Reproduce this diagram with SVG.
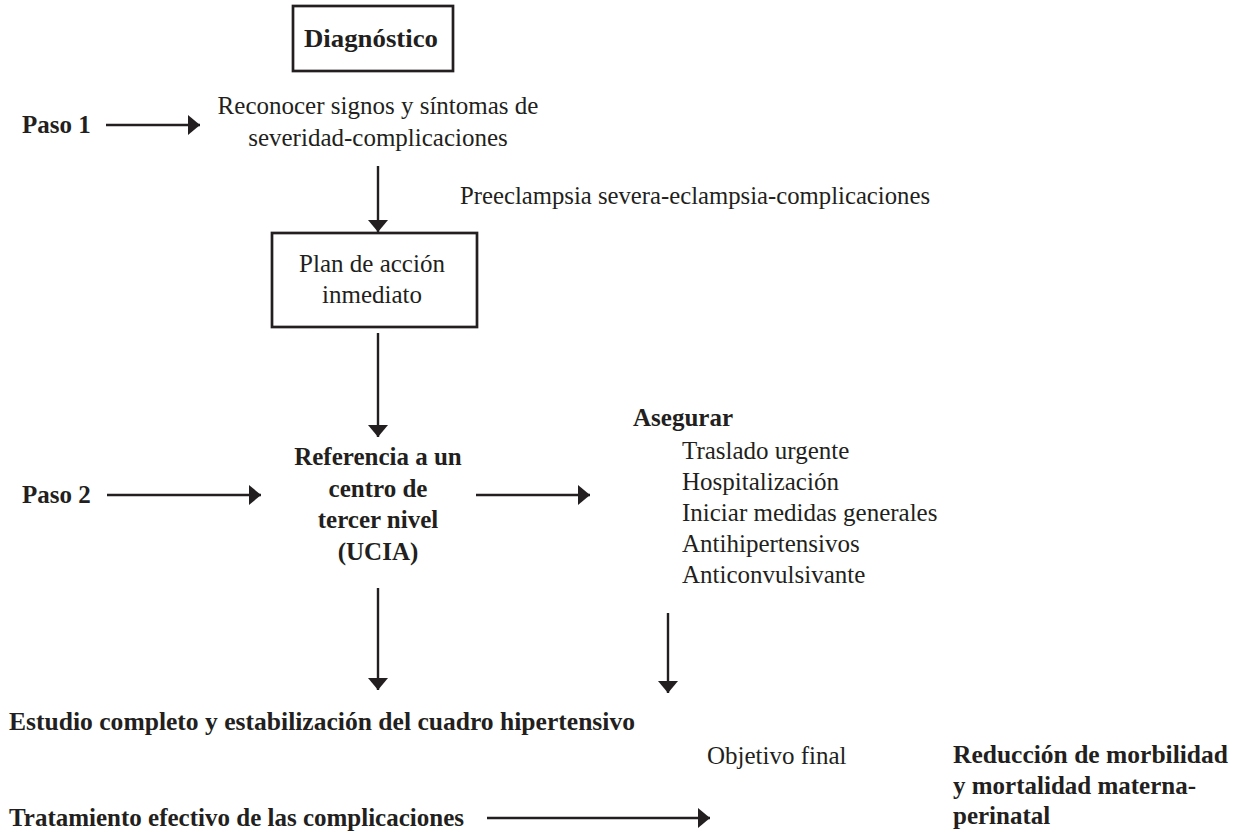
<svg xmlns="http://www.w3.org/2000/svg" width="1248" height="836" viewBox="0 0 1248 836">
<defs>
<marker id="ah" markerWidth="12" markerHeight="20" refX="12" refY="10" orient="auto" markerUnits="userSpaceOnUse" viewBox="0 0 12 20">
<path d="M0,0 L12,10 L0,20 Z" fill="#231f20"/>
</marker>
</defs>
<style>
text{font-family:"Liberation Serif","Times New Roman",serif;font-size:25px;fill:#231f20}
.b{font-weight:bold}
.m{text-anchor:middle}
.box{fill:none;stroke:#231f20;stroke-width:2.7}
.c line{stroke:#231f20;stroke-width:2.4;marker-end:url(#ah)}
</style>
<rect width="1248" height="836" fill="#fff"/>
<g id="diagnostico"><rect class="box" x="293" y="6" width="160" height="65"/><text class="b m" x="371" y="47" textLength="134" lengthAdjust="spacingAndGlyphs">Diagnóstico</text></g>
<g id="paso1"><text class="b" x="22" y="133">Paso 1</text></g>
<g id="reconocer"><text class="m" x="378" y="114">Reconocer signos y síntomas de</text><text class="m" x="378" y="146">severidad-complicaciones</text></g>
<g id="preeclampsia"><text x="460" y="204" textLength="470" lengthAdjust="spacingAndGlyphs">Preeclampsia severa-eclampsia-complicaciones</text></g>
<g id="plan"><rect class="box" x="272" y="233" width="205" height="94"/><text class="m" x="372" y="272">Plan de acción</text><text class="m" x="372" y="303">inmediato</text></g>
<g id="referencia"><text class="b m" x="378" y="465">Referencia a un</text><text class="b m" x="378" y="497">centro de</text><text class="b m" x="378" y="528">tercer nivel</text><text class="b m" x="378" y="560">(UCIA)</text></g>
<g id="paso2"><text class="b" x="22" y="503">Paso 2</text></g>
<g id="asegurar"><text class="b" x="633" y="426">Asegurar</text><text x="682" y="459">Traslado urgente</text><text x="682" y="490">Hospitalización</text><text x="682" y="521">Iniciar medidas generales</text><text x="682" y="552">Antihipertensivos</text><text x="682" y="583">Anticonvulsivante</text></g>
<g id="estudio"><text class="b" x="9" y="730" textLength="626" lengthAdjust="spacingAndGlyphs">Estudio completo y estabilización del cuadro hipertensivo</text></g>
<g id="objetivo"><text x="707" y="764">Objetivo final</text></g>
<g id="reduccion"><text class="b" x="953" y="763" textLength="275" lengthAdjust="spacingAndGlyphs">Reducción de morbilidad</text><text class="b" x="953" y="794">y mortalidad materna-</text><text class="b" x="953" y="824">perinatal</text></g>
<g id="tratamiento"><text class="b" x="9" y="826">Tratamiento efectivo de las complicaciones</text></g>
<g class="c" id="connectors">
<line x1="106" y1="125" x2="200" y2="125"/>
<line x1="378" y1="166" x2="378" y2="232"/>
<line x1="378" y1="333" x2="378" y2="437"/>
<line x1="107" y1="495" x2="261" y2="495"/>
<line x1="476" y1="495" x2="590" y2="495"/>
<line x1="378" y1="588" x2="378" y2="690"/>
<line x1="668" y1="613" x2="668" y2="693"/>
<line x1="487" y1="818" x2="710" y2="818"/>
</g>
</svg>
